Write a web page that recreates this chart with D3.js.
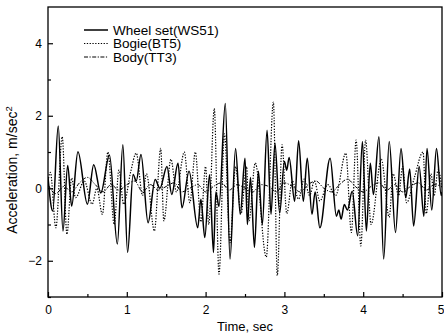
<!DOCTYPE html>
<html>
<head>
<meta charset="utf-8">
<script src="https://cdn.jsdelivr.net/npm/d3@7"></script>
<style>
    body { margin: 0; background: #fff; }
    svg { display: block; font-family: "Liberation Sans", Arial, sans-serif; }
</style>
</head>
<body>
<svg id="chart"></svg>
<script>
// Wheel set (WS51) - time (s) and acceleration (m/s^2), peaks and troughs
const wheelT = [0.00, 0.06, 0.13, 0.19, 0.25, 0.30, 0.38, 0.50, 0.58, 0.67, 0.78, 0.88, 0.95, 1.01, 1.08, 1.12, 1.18, 1.27, 1.36, 1.42,
    1.51, 1.57, 1.65, 1.70, 1.79, 1.90, 1.94, 1.99, 2.05, 2.10, 2.13, 2.17, 2.25, 2.31, 2.38, 2.44, 2.50, 2.53, 2.57, 2.62,
    2.67, 2.72, 2.78, 2.83, 2.88, 2.94, 3.00, 3.03, 3.06, 3.13, 3.18, 3.24, 3.29, 3.35, 3.39, 3.45, 3.58, 3.66, 3.69, 3.72,
    3.76, 3.80, 3.86, 3.93, 3.99, 4.04, 4.09, 4.13, 4.20, 4.26, 4.33, 4.41, 4.48, 4.54, 4.59, 4.64, 4.71, 4.77, 4.81, 4.87,
    4.93, 4.99, 5.00];
const wheelA = [0.3, -0.63, 1.72, -1.18, 0.63, -0.49, 1.01, -0.44, 0.65, -0.13, 0.92, -1.54, 1.20, -1.77, 0.38, 0.2, 0.93, -0.95, 0.24, 0.0,
    0.60, -0.17, 0.69, -0.54, 0.47, -1.09, -0.30, -1.36, 0.37, -1.77, -0.10, -0.5, 2.34, -1.95, 1.10, -0.72, 0.83, -1.0, 0.3, -1.63,
    0.47, -1.0, 1.6, -0.72, 1.24, -0.68, 0.74, 0.5, 0.85, -0.36, 1.31, -0.36, 0.83, -0.72, -0.1, -1.09, 0.83, -0.77, -0.6, -0.85,
    -0.45, -0.6, -0.08, -1.31, 1.29, -1.18, 0.69, -0.17, 1.42, -1.95, 1.29, -1.22, 1.10, -0.26, 0.53, -1.04, 0.60, -0.77, 1.10, -0.60,
    1.10, -0.20, -0.1];

// Bogie (BT5)
const bogieT = [0.00, 0.03, 0.10, 0.18, 0.24, 0.30, 0.35, 0.46, 0.56, 0.62, 0.69, 0.76, 0.84, 0.90, 0.96, 1.05, 1.12, 1.20, 1.25, 1.35,
    1.43, 1.47, 1.56, 1.63, 1.73, 1.80, 1.87, 1.94, 2.00, 2.04, 2.11, 2.17, 2.24, 2.31, 2.38, 2.45, 2.52, 2.55, 2.63, 2.77,
    2.86, 2.91, 2.97, 3.03, 3.10, 3.18, 3.25, 3.32, 3.38, 3.45, 3.55, 3.65, 3.78, 3.85, 3.91, 3.97, 4.03, 4.10, 4.23, 4.33,
    4.38, 4.45, 4.50, 4.55, 4.65, 4.76, 4.80, 4.86, 4.90, 4.95, 5.00];
const bogieA = [0.2, 0.44, -1.09, 1.42, -1.27, 0.28, -0.26, 0.20, -0.44, 0.0, -0.72, 1.00, -1.00, 0.50, -0.44, 0.46, 0.97, -0.2, 0.4, -1.18,
    1.10, -0.90, 0.80, -0.1, 1.00, -0.4, 1.00, -0.93, 0.60, -1.0, 2.20, -2.37, 1.50, -1.50, 0.60, -0.7, 0.6, -0.9, 0.7, -1.90,
    2.38, -2.41, 1.20, -0.7, 0.2, -0.3, 0.25, -0.2, 0.2, -0.35, 0.1, -0.2, 0.97, -1.22, 1.33, -1.59, 1.33, -1.00, 0.80, -0.80,
    0.4, -0.2, 0.6, -0.4, 0.3, 1.00, -0.7, 0.4, -0.2, 0.5, 0.0];

// Body (TT3), sampled every 0.1 s
const bodyT = d3.range(0, 51).map(i => i / 10);
const bodyA = [0.1, -0.15, 0.05, -0.1, 0.15, 0.3, 0.1, -0.1, 0.1, -0.05, 0.1, 0.2, -0.1, 0.1, -0.05, 0.05, 0.15, -0.1, 0.0, 0.1,
    -0.1, 0.05, 0.15, -0.05, 0.1, 0.0, -0.1, 0.1, 0.05, -0.1, 0.15, 0.05, -0.1, 0.1, 0.2, 0.0, -0.1, 0.1, 0.25, 0.05,
    -0.1, 0.05, 0.15, -0.05, 0.1, -0.1, 0.05, 0.15, -0.05, 0.1, 0.05];

const xTicks = [0, 1, 2, 3, 4, 5];
const yTicks = [-2, 0, 2, 4];
const seriesNames = ['Wheel set(WS51)', 'Bogie(BT5)', 'Body(TT3)'];

function drawChart() {
    const W = 444, H = 336;
    const margin = { top: 7, right: 2, bottom: 39, left: 48 };
    const width = W - margin.left - margin.right;
    const height = H - margin.top - margin.bottom;

    const svg = d3.select('#chart').attr('width', W).attr('height', H);
    const g = svg.append('g').attr('transform', `translate(${margin.left},${margin.top})`);

    const x = d3.scaleLinear().domain([0, 5]).range([0, width]);
    const y = d3.scaleLinear().domain([-3, 5]).range([height, 0]);

    // clip to plot area
    svg.append('defs').append('clipPath').attr('id', 'clip')
        .append('rect').attr('width', width).attr('height', height);

    const styles = [
        { dash: null, w: 1.5 },
        { dash: '1.3,1.5', w: 1.2 },
        { dash: '4,1.5,1.2,1.5', w: 1 }
    ];
    const series = [
        wheelT.map((t, i) => [t, wheelA[i]]),
        bogieT.map((t, i) => [t, bogieA[i]]),
        bodyT.map((t, i) => [t, bodyA[i]])
    ];

    const line = d3.line()
        .x(d => x(d[0]))
        .y(d => y(d[1]))
        .curve(d3.curveMonotoneX);

    const plot = g.append('g').attr('clip-path', 'url(#clip)');
    // draw body first, then bogie, then wheel set on top
    [2, 1, 0].forEach(i => {
        plot.append('path')
            .datum(series[i])
            .attr('fill', 'none')
            .attr('stroke', '#000')
            .attr('stroke-width', styles[i].w)
            .attr('stroke-dasharray', styles[i].dash)
            .attr('d', line);
    });

    // axes with inward ticks
    const xAxis = g.append('g')
        .attr('transform', `translate(0,${height})`)
        .call(d3.axisBottom(x).tickValues(xTicks).tickFormat(d3.format('d')).tickSizeInner(-5).tickSizeOuter(0).tickPadding(8));
    const yAxis = g.append('g')
        .call(d3.axisLeft(y).tickValues(yTicks).tickFormat(d3.format('d')).tickSizeInner(-5).tickSizeOuter(0).tickPadding(6));

    // minor ticks
    const xMinor = g.append('g')
        .attr('transform', `translate(0,${height})`)
        .call(d3.axisBottom(x).tickValues([0.5, 1.5, 2.5, 3.5, 4.5]).tickFormat('').tickSizeInner(-3).tickSizeOuter(0));
    const yMinor = g.append('g')
        .call(d3.axisLeft(y).tickValues([-3, -1, 1, 3]).tickFormat('').tickSizeInner(-3).tickSizeOuter(0));

    [xAxis, yAxis, xMinor, yMinor].forEach(a => {
        a.select('.domain').remove();
        a.selectAll('line').attr('stroke', '#000').attr('stroke-width', 1.2);
        a.selectAll('text').attr('fill', '#000').style('font-size', '12px')
            .style('font-family', '"Liberation Sans", Arial, sans-serif');
    });

    // the last x label sits at the window edge, keep it inside
    xAxis.selectAll('.tick text').filter(d => d === 5).attr('text-anchor', 'end').attr('x', 2);

    // frame
    g.append('rect')
        .attr('width', width).attr('height', height)
        .attr('fill', 'none').attr('stroke', '#000').attr('stroke-width', 1.3);

    // legend
    const legend = g.append('g').attr('transform', 'translate(36,23)');
    seriesNames.forEach((name, i) => {
        const row = legend.append('g').attr('transform', `translate(0,${i * 13.5})`);
        row.append('line')
            .attr('x1', 0).attr('x2', 24).attr('y1', 0).attr('y2', 0)
            .attr('stroke', '#000')
            .attr('stroke-width', styles[i].w)
            .attr('stroke-dasharray', styles[i].dash);
        row.append('text')
            .attr('x', 29).attr('y', 4.5)
            .style('font-size', '13.5px')
            .text(name);
    });

    // axis labels
    svg.append('text')
        .attr('x', margin.left + width / 2)
        .attr('y', 331)
        .attr('text-anchor', 'middle')
        .style('font-size', '13px')
        .text('Time, sec');

    const yl = svg.append('text')
        .attr('transform', 'translate(17,170) rotate(-90)')
        .attr('text-anchor', 'middle')
        .style('font-size', '14px');
    yl.append('tspan').text('Acceleration, m/sec');
    yl.append('tspan').attr('dy', -5).style('font-size', '9.5px').text('2');
}

drawChart();
</script>
</body>
</html>
